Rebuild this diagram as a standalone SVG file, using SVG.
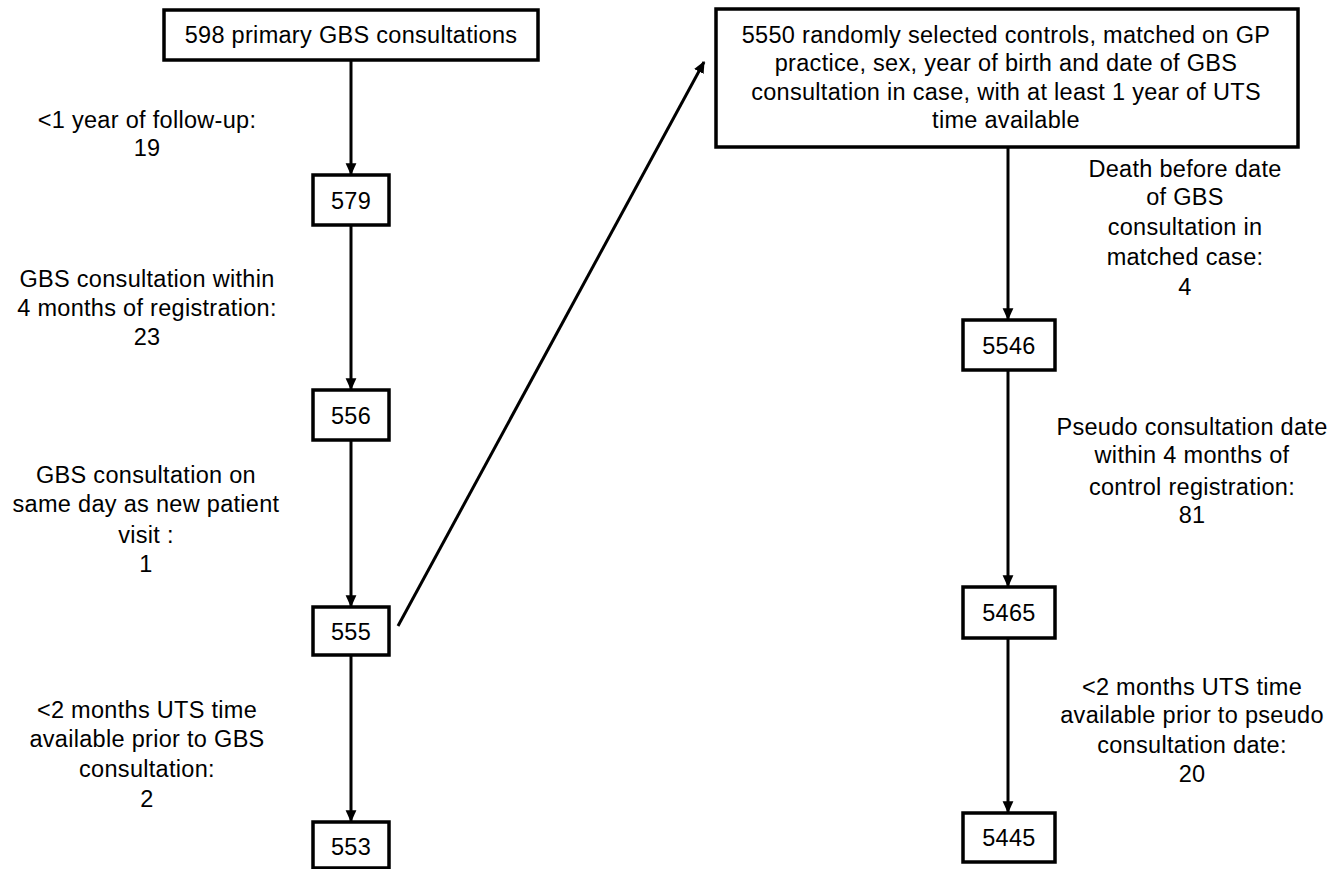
<svg xmlns="http://www.w3.org/2000/svg" width="1341" height="869" viewBox="0 0 1341 869">
<style>
.box{fill:#fff;stroke:#000;stroke-width:3.5}
.t{font-family:"Liberation Sans",Arial,sans-serif;font-size:23.5px;fill:#000;text-anchor:middle;letter-spacing:0.3px}
.c{stroke:#000;stroke-width:3;fill:none}
</style>
<defs>
<marker id="ah" markerWidth="5" markerHeight="5" refX="3.6" refY="2.2" orient="auto" markerUnits="strokeWidth">
<path d="M0,0.4 L4,2.2 L0,4 Z" fill="#000"/>
</marker>
</defs>
<rect width="1341" height="869" fill="#fff"/>
<g id="connectors">
<line class="c" x1="351" y1="60" x2="351" y2="174" marker-end="url(#ah)"/>
<line class="c" x1="351" y1="225" x2="351" y2="389" marker-end="url(#ah)"/>
<line class="c" x1="351" y1="440" x2="351" y2="606" marker-end="url(#ah)"/>
<line class="c" x1="351" y1="655" x2="351" y2="821" marker-end="url(#ah)"/>
<line class="c" x1="398" y1="626" x2="704" y2="62" marker-end="url(#ah)"/>
<line class="c" x1="1008" y1="147" x2="1008" y2="319" marker-end="url(#ah)"/>
<line class="c" x1="1008" y1="370" x2="1008" y2="586" marker-end="url(#ah)"/>
<line class="c" x1="1008" y1="638" x2="1008" y2="812" marker-end="url(#ah)"/>
</g>
<g id="n598"><rect class="box" x="164" y="10" width="374" height="50"/><text class="t" x="351" y="43">598 primary GBS consultations</text></g>
<g id="n579"><rect class="box" x="313" y="175" width="76" height="50"/><text class="t" x="351" y="209">579</text></g>
<g id="n556"><rect class="box" x="313" y="390" width="76" height="50"/><text class="t" x="351" y="424">556</text></g>
<g id="n555"><rect class="box" x="313" y="607" width="76" height="48"/><text class="t" x="351" y="640">555</text></g>
<g id="n553"><rect class="box" x="313" y="822" width="76" height="46"/><text class="t" x="351" y="855">553</text></g>
<g id="n5550"><rect class="box" x="716" y="9" width="582" height="138"/>
<text class="t" x="1006" y="43">5550 randomly selected controls, matched on GP</text>
<text class="t" x="1006" y="71">practice, sex, year of birth and date of GBS</text>
<text class="t" x="1006" y="100">consultation in case, with at least 1 year of UTS</text>
<text class="t" x="1006" y="128">time available</text></g>
<g id="n5546"><rect class="box" x="963" y="320" width="92" height="50"/><text class="t" x="1009" y="354">5546</text></g>
<g id="n5465"><rect class="box" x="963" y="587" width="92" height="51"/><text class="t" x="1009" y="621">5465</text></g>
<g id="n5445"><rect class="box" x="963" y="813" width="92" height="49"/><text class="t" x="1009" y="846">5445</text></g>
<g id="labels">
<text class="t" x="147" y="128">&lt;1 year of follow-up:</text>
<text class="t" x="147" y="156">19</text>
<text class="t" x="147" y="287">GBS consultation within</text>
<text class="t" x="147" y="316">4 months of registration:</text>
<text class="t" x="147" y="345">23</text>
<text class="t" x="146" y="483">GBS consultation on</text>
<text class="t" x="146" y="512">same day as new patient</text>
<text class="t" x="146" y="543">visit :</text>
<text class="t" x="146" y="572">1</text>
<text class="t" x="147" y="718">&lt;2 months UTS time</text>
<text class="t" x="147" y="747">available prior to GBS</text>
<text class="t" x="147" y="777">consultation:</text>
<text class="t" x="147" y="807">2</text>
<text class="t" x="1185" y="177">Death before date</text>
<text class="t" x="1185" y="205">of GBS</text>
<text class="t" x="1185" y="235">consultation in</text>
<text class="t" x="1185" y="265">matched case:</text>
<text class="t" x="1185" y="295">4</text>
<text class="t" x="1192" y="435">Pseudo consultation date</text>
<text class="t" x="1192" y="463">within 4 months of</text>
<text class="t" x="1192" y="495">control registration:</text>
<text class="t" x="1192" y="523">81</text>
<text class="t" x="1192" y="695">&lt;2 months UTS time</text>
<text class="t" x="1192" y="723">available prior to pseudo</text>
<text class="t" x="1192" y="753">consultation date:</text>
<text class="t" x="1192" y="782">20</text>
</g>
</svg>
